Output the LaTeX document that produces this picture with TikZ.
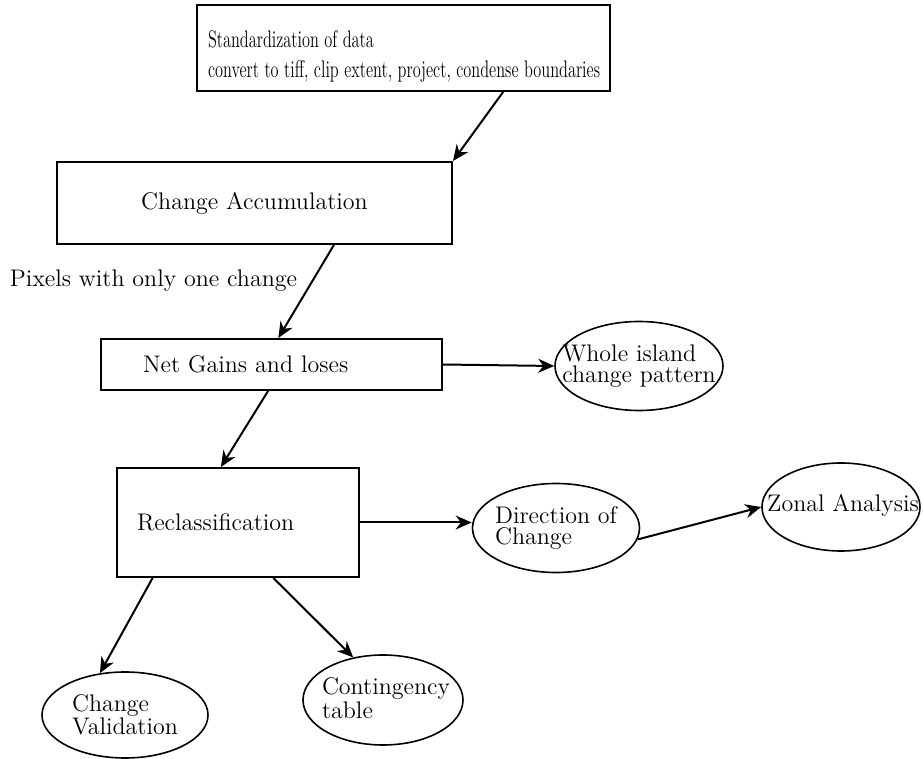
\documentclass[tikz,border=0pt]{standalone}
\usepackage{amsmath}
\usetikzlibrary{shapes.geometric,arrows.meta,calc}

\begin{document}
\begin{tikzpicture}[x=0.5pt,y=-0.5pt,
    box/.style={draw,rectangle,line width=1pt,inner ysep=0pt,font=\fontsize{12}{14}\selectfont},
    oval/.style={draw,ellipse,line width=0.8pt,inner sep=0pt},
    ovtext/.style={inner sep=0pt,align=left,font=\fontsize{12}{10.5}\selectfont},
    link/.style={line width=1pt,-{Stealth[length=8pt,width=7pt]}}]
    \useasboundingbox (0,0) rectangle (923,759);
    % boxes
    \node[box,minimum height=43pt,text width=195.5pt,inner xsep=5.5pt,align=left,font=\fontsize{12}{15}\selectfont] (std) at (403.5,48)
        {\rule{0pt}{16.5pt}\scalebox{0.68}[1]{Standardization of data}\\\scalebox{0.68}[1]{convert to tiff, clip extent, project, condense boundaries}};
    \node[box,minimum width=197.5pt,minimum height=41pt] (acc) at (254.5,203) {Change Accumulation};
    \node[inner sep=0pt,font=\fontsize{12}{14}\selectfont] (pix) at (153.5,281) {Pixels with only one change};
    \node[box,minimum height=25.5pt,text width=128.5pt,inner xsep=21pt,align=left] (net) at (271.5,364.5) {Net Gains and loses};
    \node[box,minimum height=54.5pt,text width=101pt,inner xsep=10pt,align=left] (rec) at (238,522.5) {Reclassification};
    % ovals
    \node[oval,minimum width=84pt,minimum height=44.5pt] (whole) at (639,366) {};
    \node[ovtext] (wholet) at (whole) {Whole island\\change pattern};
    \node[oval,minimum width=83.5pt,minimum height=44.5pt] (dir) at (556,528) {};
    \node[ovtext] (dirt) at (dir) {Direction of\\Change};
    \node[oval,minimum width=79pt,minimum height=44pt] (zon) at (841,507) {};
    \node[ovtext] (zont) at (843,505) {Zonal Analysis};
    \node[oval,minimum width=83pt,minimum height=43pt] (val) at (125,715) {};
    \node[ovtext] (valt) at (val) {Change\\Validation};
    \node[oval,minimum width=80pt,minimum height=45pt] (con) at (383,700) {};
    \node[ovtext] (cont) at (386,698) {Contingency\\table};
    % arrows
    \draw[link] ($(std.south west)!0.74!(std.south east)$) -- (acc.north east);
    \draw[link] ($(acc.south west)!0.7!(acc.south east)$) -- ($(net.north west)!0.52!(net.north east)$);
    \draw[link] (net.east) -- (whole.west);
    \draw[link] ($(net.south west)!0.49!(net.south east)$) -- ($(rec.north west)!0.43!(rec.north east)$);
    \draw[link] (rec.east) -- (rec.east -| dir.west);
    \draw[link] (dir.-8) -- (zon.west);
    \draw[link] ($(rec.south west)!0.15!(rec.south east)$) -- (val.121);
    \draw[link] ($(rec.south west)!0.645!(rec.south east)$) -- (con.125);
\end{tikzpicture}
\end{document}
